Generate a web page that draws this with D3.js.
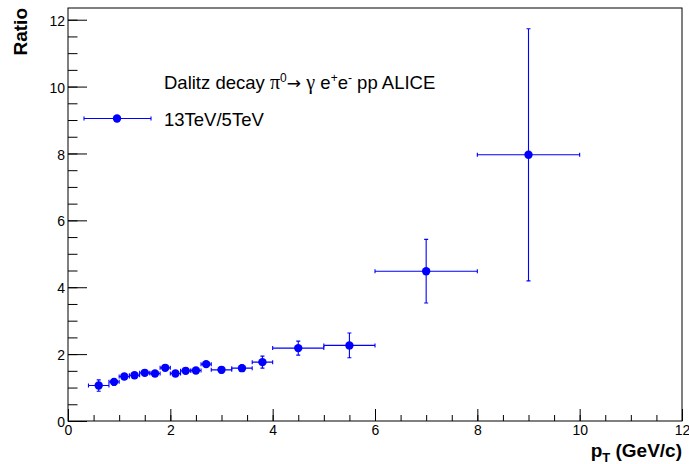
<!DOCTYPE html>
<html>
<head>
<meta charset="utf-8">
<script src="https://cdn.jsdelivr.net/npm/d3@7"></script>
<style>
  body { margin: 0; background: #fff; }
  svg text { font-family: "Liberation Sans", Arial, sans-serif; }
</style>
</head>
<body>
<svg id="chart" width="689" height="464"></svg>
<script>
// pT bins (GeV/c) and the 13TeV/5TeV ratio
const ptCenter = [0.6, 0.9, 1.1, 1.3, 1.5, 1.7, 1.9, 2.1, 2.3, 2.5, 2.7, 3.0, 3.4, 3.8, 4.5, 5.5, 7.0, 9.0];
const ptLow    = [0.4, 0.8, 1.0, 1.2, 1.4, 1.6, 1.8, 2.0, 2.2, 2.4, 2.6, 2.8, 3.2, 3.6, 4.0, 5.0, 6.0, 8.0];
const ptHigh   = [0.8, 1.0, 1.2, 1.4, 1.6, 1.8, 2.0, 2.2, 2.4, 2.6, 2.8, 3.2, 3.6, 4.0, 5.0, 6.0, 8.0, 10.0];
const ratio    = [1.06, 1.17, 1.33, 1.37, 1.44, 1.42, 1.59, 1.42, 1.50, 1.51, 1.70, 1.53, 1.58, 1.76, 2.18, 2.26, 4.48, 7.96];
const ratioErr = [0.17, 0.10, 0.08, 0.08, 0.08, 0.08, 0.08, 0.08, 0.08, 0.08, 0.08, 0.09, 0.09, 0.18, 0.21, 0.37, 0.95, 3.77];

const xMajor = [0, 2, 4, 6, 8, 10, 12];
const yMajor = [0, 2, 4, 6, 8, 10, 12];
const xMinor = d3.range(0, 12.01, 0.5);
const yMinor = d3.range(0, 12.01, 0.5);

const frame = { left: 68, right: 682, top: 8, bottom: 421 };
const blue = "#0000ff";
const cap = 2;

const x = d3.scaleLinear().domain([0, 12]).range([frame.left, frame.right]);
const y = d3.scaleLinear().domain([0, 12.35]).range([frame.bottom, frame.top]);

const svg = d3.select("#chart");

const points = ptCenter.map((c, i) => ({
  x: c, lo: ptLow[i], hi: ptHigh[i], y: ratio[i], e: ratioErr[i]
}));

// axes (ticks point into the frame, like ROOT)
const gx = svg.append("g").attr("transform", `translate(0,${frame.bottom})`);
gx.append("g").call(d3.axisBottom(x).tickValues(xMinor).tickSize(-6).tickFormat(""));
gx.append("g").call(d3.axisBottom(x).tickValues(xMajor).tickSize(-12).tickPadding(4).tickFormat(d3.format("d")));
gx.selectAll(".domain").remove();
gx.selectAll("text").attr("font-size", 14).attr("fill", "#000")
  .attr("font-family", "Liberation Sans, Arial, sans-serif");

const gy = svg.append("g").attr("transform", `translate(${frame.left},0)`);
gy.append("g").call(d3.axisLeft(y).tickValues(yMinor).tickSize(-9.5).tickFormat(""));
gy.append("g").call(d3.axisLeft(y).tickValues(yMajor).tickSize(-19).tickPadding(3).tickFormat(d3.format("d")));
gy.selectAll(".domain").remove();
gy.selectAll("text").attr("font-size", 14).attr("fill", "#000")
  .attr("font-family", "Liberation Sans, Arial, sans-serif").attr("dy", "0.4em");

svg.selectAll(".tick line").attr("stroke", "#000");

// frame
svg.append("rect")
  .attr("x", frame.left).attr("y", frame.top)
  .attr("width", frame.right - frame.left).attr("height", frame.bottom - frame.top)
  .attr("fill", "none").attr("stroke", "#000").attr("stroke-width", 1);

// error bars
const gErr = svg.append("g").attr("stroke", blue).attr("stroke-width", 1.1).attr("fill", "none");
points.forEach(p => {
  const cx = x(p.x), cy = y(p.y);
  const x0 = x(p.lo), x1 = x(p.hi);
  const y0 = y(p.y - p.e), y1 = y(p.y + p.e);
  gErr.append("path").attr("d",
    `M${x0},${cy}H${x1}` +
    `M${x0},${cy - cap}V${cy + cap}M${x1},${cy - cap}V${cy + cap}` +
    `M${cx},${y0}V${y1}` +
    `M${cx - cap},${y0}H${cx + cap}M${cx - cap},${y1}H${cx + cap}`);
});

// markers
svg.append("g").selectAll("circle")
  .data(points)
  .join("circle")
  .attr("cx", d => x(d.x))
  .attr("cy", d => y(d.y))
  .attr("r", 4.2)
  .attr("fill", blue);

// title line
const serif = "Liberation Serif, DejaVu Serif, serif";
const title = svg.append("text").attr("x", 164).attr("y", 89).attr("font-size", 18.5).attr("fill", "#000");
title.append("tspan").text("Dalitz decay ");
title.append("tspan").attr("font-family", serif).attr("font-size", 20).text("\u03C0");
title.append("tspan").attr("font-size", 12).attr("dy", -7).text("0");
title.append("tspan").attr("dy", 7).attr("font-family", "DejaVu Sans, sans-serif").attr("font-size", 17).text("\u2192 ");
title.append("tspan").attr("font-family", serif).attr("font-size", 20).text("\u03B3");
title.append("tspan").text(" e");
title.append("tspan").attr("font-size", 12).attr("dy", -7).text("+");
title.append("tspan").attr("dy", 7).text("e");
title.append("tspan").attr("font-size", 12).attr("dy", -7).text("-");
title.append("tspan").attr("dy", 7).text(" pp ALICE");

// legend entry
const ly = 118.5;
svg.append("path")
  .attr("d", `M84,${ly}H151M84,${ly - cap}V${ly + cap}M151,${ly - cap}V${ly + cap}`)
  .attr("stroke", blue).attr("stroke-width", 1.1).attr("fill", "none");
svg.append("circle").attr("cx", 117).attr("cy", ly).attr("r", 4.2).attr("fill", blue);
svg.append("text").attr("x", 164).attr("y", 126).attr("font-size", 18.5).attr("fill", "#000")
  .text("13TeV/5TeV");

// axis titles
svg.append("text")
  .attr("transform", `translate(27,${frame.top}) rotate(-90)`)
  .attr("text-anchor", "end").attr("font-size", 19).attr("font-weight", "bold")
  .text("Ratio");

const xt = svg.append("text").attr("x", frame.right).attr("y", 457)
  .attr("text-anchor", "end").attr("font-size", 19).attr("font-weight", "bold");
xt.append("tspan").text("p");
xt.append("tspan").attr("font-size", 13).attr("dy", 5).text("T");
xt.append("tspan").attr("dy", -5).text(" (GeV/c)");
</script>
</body>
</html>
